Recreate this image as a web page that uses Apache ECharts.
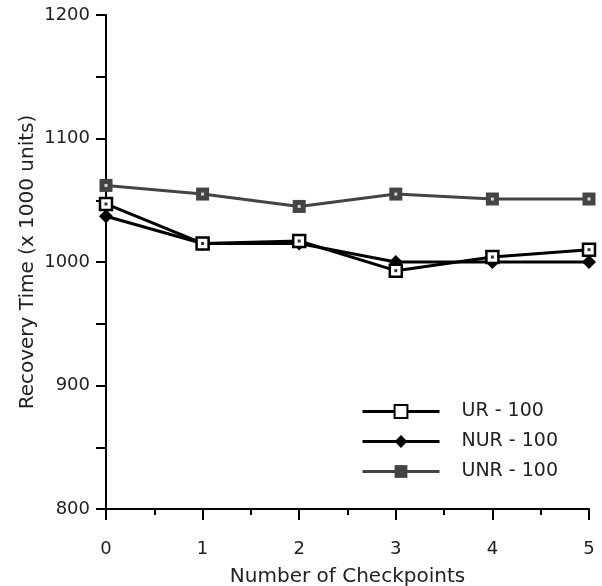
<!DOCTYPE html>
<html>
<head>
<meta charset="utf-8">
<script src="https://cdn.jsdelivr.net/npm/echarts@6/dist/echarts.min.js"></script>
<style>
  html, body { margin: 0; padding: 0; background: #fff; }
  #chart { width: 602px; height: 586px; }
</style>
</head>
<body>
<div id="chart"></div>
<script>
// x 值 (checkpoint 数)
const checkpoints = [0, 1, 2, 3, 4, 5]
// 各系列数值 (x 1000 units)
const urValues = [1047, 1015, 1017, 993, 1004, 1010]
const nurValues = [1037, 1015, 1015, 1000, 1000, 1000]
const unrValues = [1062, 1055, 1045, 1055, 1051, 1051]
const yTicks = [800, 900, 1000, 1100, 1200]

const pairs = vals => checkpoints.map((x, i) => [x, vals[i]])
const font = 'DejaVu Sans'

const myChart = echarts.init(document.getElementById('chart'))
const option = {
  animation: false,
  textStyle: { fontFamily: font },
  grid: { left: 106, right: 13, top: 15, bottom: 77, containLabel: false, outerBoundsMode: 'none' },
  legend: {
    orient: 'vertical',
    left: 361,
    top: 402,
    padding: 0,
    itemWidth: 77,
    itemHeight: 16,
    itemGap: 11,
    lineStyle: { width: 3 },
    textStyle: { fontSize: 19, color: '#222', fontFamily: font, padding: [0, 0, 0, 17] },
    data: ['UR - 100', 'NUR - 100', 'UNR - 100']
  },
  xAxis: {
    type: 'value',
    min: 0,
    max: 5,
    interval: 1,
    name: 'Number of Checkpoints',
    nameLocation: 'middle',
    nameGap: 58,
    nameMoveOverlap: false,
    nameTextStyle: { fontSize: 20, color: '#222' },
    axisLine: { lineStyle: { color: '#000', width: 2 } },
    axisTick: { length: 11, lineStyle: { color: '#000', width: 2 } },
    minorTick: { show: true, splitNumber: 2, length: 6, lineStyle: { color: '#000', width: 2 } },
    axisLabel: { fontSize: 18, color: '#222', margin: 31, formatter: v => String(v) },
    splitLine: { show: false }
  },
  yAxis: {
    type: 'value',
    min: yTicks[0],
    max: yTicks[yTicks.length - 1],
    interval: 100,
    name: 'Recovery Time (x 1000 units)',
    nameLocation: 'middle',
    nameGap: 68,
    nameMoveOverlap: false,
    nameTextStyle: { fontSize: 20, color: '#222' },
    axisLine: { onZero: false, lineStyle: { color: '#000', width: 2 } },
    axisTick: { length: 10, lineStyle: { color: '#000', width: 2 } },
    minorTick: { show: true, splitNumber: 2, length: 10, lineStyle: { color: '#000', width: 2 } },
    axisLabel: { fontSize: 18, color: '#222', margin: 16, formatter: v => String(v) },
    splitLine: { show: false }
  },
  series: [
    {
      name: 'UR - 100',
      type: 'line',
      data: pairs(urValues),
      symbol: 'rect',
      symbolSize: 12,
      z: 4,
      lineStyle: { color: '#000', width: 3 },
      itemStyle: { color: '#fff', borderColor: '#000', borderWidth: 2.5 }
    },
    {
      name: 'NUR - 100',
      type: 'line',
      data: pairs(nurValues),
      symbol: 'diamond',
      symbolSize: 14,
      z: 3,
      lineStyle: { color: '#000', width: 3 },
      itemStyle: { color: '#000' }
    },
    {
      name: 'UNR - 100',
      type: 'line',
      data: pairs(unrValues),
      symbol: 'rect',
      symbolSize: 13,
      z: 2,
      lineStyle: { color: '#444', width: 3 },
      itemStyle: { color: '#444' }
    },
    // 标记中心的小点
    {
      type: 'scatter',
      data: pairs(urValues),
      symbol: 'rect',
      symbolSize: 3,
      z: 6,
      silent: true,
      itemStyle: { color: '#000' }
    },
    {
      type: 'scatter',
      data: pairs(unrValues),
      symbol: 'rect',
      symbolSize: 3,
      z: 6,
      silent: true,
      itemStyle: { color: '#fff' }
    }
  ]
}
myChart.setOption(option)
</script>
</body>
</html>
